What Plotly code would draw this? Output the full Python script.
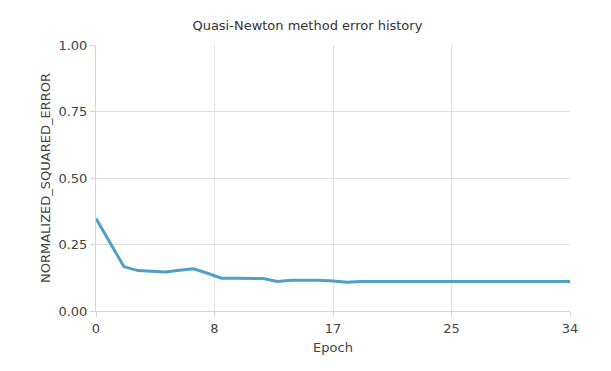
import plotly.graph_objects as go

epochs = list(range(35))
errors = [0.348, 0.26, 0.167, 0.152, 0.150, 0.147, 0.153, 0.159, 0.142, 0.123,
          0.123, 0.123, 0.122, 0.111, 0.116, 0.116, 0.116, 0.113, 0.108, 0.111,
          0.111, 0.111, 0.111, 0.111, 0.111, 0.111, 0.111, 0.111, 0.111, 0.111,
          0.111, 0.111, 0.111, 0.111, 0.111]
x_tickvals = [0, 8.5, 17, 25.5, 34]
x_ticktext = ["0", "8", "17", "25", "34"]
y_tickvals = [0, 0.25, 0.5, 0.75, 1.0]
y_ticktext = ["0.00", "0.25", "0.50", "0.75", "1.00"]

font = "Tahoma, Verdana, DejaVu Sans, sans-serif"

fig = go.Figure(go.Scatter(x=epochs, y=errors, mode="lines",
                           line=dict(color="#4f9fc6", width=3)))
fig.update_layout(
    width=611, height=371,
    margin=dict(l=88, r=49, t=37, b=68),
    paper_bgcolor="white", plot_bgcolor="white",
    title=dict(text="Quasi-Newton method error history", x=0.49,
               xanchor="center", y=1 - 17 / 371, yanchor="middle",
               font=dict(family=font, size=13, color="#333")),
    font=dict(family=font, size=13, color="#444"),
    showlegend=False,
)
fig.update_xaxes(range=[0, 34], tickvals=x_tickvals, ticktext=x_ticktext,
                 showgrid=True, gridcolor="#e0e0e0", zeroline=False,
                 showline=True, linecolor="#d6d6d6", ticks="outside",
                 tickcolor="#d6d6d6", ticklen=5,
                 title=dict(text="Epoch", font=dict(size=13), standoff=8),
                 tickfont=dict(size=13))
fig.update_yaxes(range=[0, 1], tickvals=y_tickvals, ticktext=y_ticktext,
                 showgrid=True, gridcolor="#e0e0e0", zeroline=False,
                 showline=True, linecolor="#d6d6d6", ticks="outside",
                 tickcolor="#d6d6d6", ticklen=5,
                 title=dict(text="NORMALIZED_SQUARED_ERROR", font=dict(size=13), standoff=4),
                 tickfont=dict(size=13))
fig.write_html("out.html")
